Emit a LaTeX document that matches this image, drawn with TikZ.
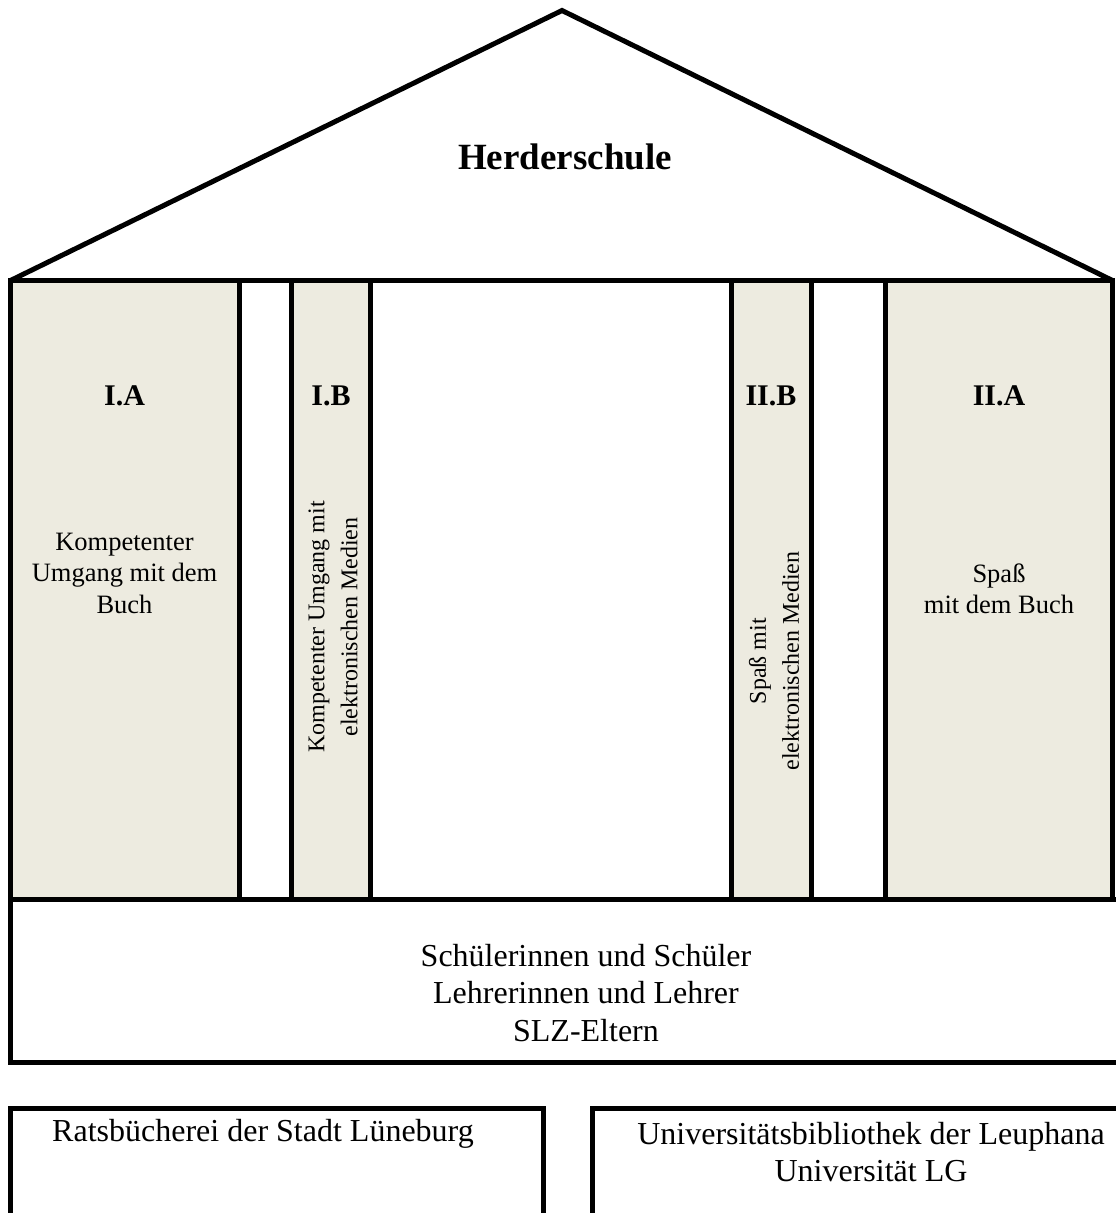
\documentclass[tikz,border=0pt]{standalone}
\usepackage{fontspec}
\setmainfont{Liberation Serif}
\definecolor{pillar}{RGB}{237,235,224}
\tikzset{
  wall/.style={draw=black, line width=5pt},
  pillarbox/.style={wall, fill=pillar},
  bigtxt/.style={font=\fontsize{32}{37.5}\selectfont, align=center, inner sep=0pt},
  coltxt/.style={font=\fontsize{26.5}{31.5}\selectfont, align=center, inner sep=0pt},
  verttxt/.style={font=\fontsize{24}{33}\selectfont, align=center, inner sep=0pt, rotate=90},
  label/.style={font=\fontsize{30}{34}\selectfont\bfseries, inner sep=0pt},
}
\begin{document}
\begin{tikzpicture}[x=1pt,y=-1pt]
\useasboundingbox (0,0) rectangle (1116,1213);
\clip (0,0) rectangle (1116,1213);
\fill[white] (0,0) rectangle (1116,1213);
% roof
\coordinate (rl) at (10.5,280.5);
\coordinate (apex) at (562,10.5);
\coordinate (rr) at (1112.5,280.5);
\draw[wall] (rl) -- (apex) -- (rr);
% pillars
\draw[pillarbox] (10.5,280.5) rectangle (239,899);
\draw[pillarbox] (291,280.5) rectangle (370.5,899);
\draw[pillarbox] (731.5,280.5) rectangle (811,899);
\draw[pillarbox] (885,280.5) rectangle (1112.5,899);
\draw[wall] (rl) -- (rr);
% foundation
\draw[wall] (10.5,899) rectangle (1140,1062);
% bottom boxes
\draw[wall] (10.5,1108) rectangle (543,1240);
\draw[wall] (592,1108) rectangle (1140,1240);
% texts
\node[font=\fontsize{37}{40}\selectfont\bfseries, inner sep=0pt] (title) at (565,157) {Herderschule};
\node[label] (ia) at (124.5,396) {I.A};
\node[label] (ib) at (331,396) {I.B};
\node[label] (iib) at (771,396) {II.B};
\node[label] (iia) at (999,396) {II.A};
\node[coltxt] (ta) at (124.5,573) {Kompetenter\\Umgang mit dem\\Buch};
\node[coltxt] (tiia) at (999,589) {Spaß\\mit dem Buch};
\node[verttxt] (tib) at (333,627) {Kompetenter Umgang mit\\elektronischen Medien};
\node[verttxt] (tiib) at (774,661) {Spaß mit\\elektronischen Medien};
\node[bigtxt] (found) at (586,993) {Schülerinnen und Schüler\\Lehrerinnen und Lehrer\\SLZ-Eltern};
\node[bigtxt] (rats) at (263,1134) {Ratsbücherei der Stadt Lüneburg};
\node[bigtxt] (uni) at (871,1152) {Universitätsbibliothek der Leuphana\\Universität LG};
\end{tikzpicture}
\end{document}
